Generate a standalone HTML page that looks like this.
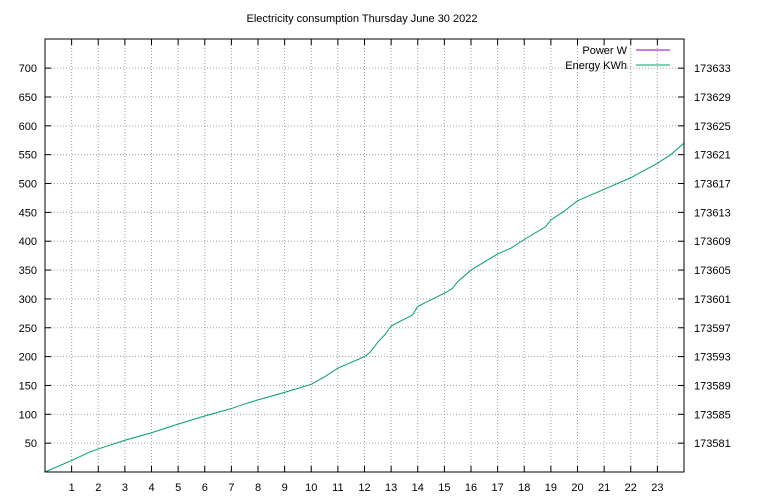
<!DOCTYPE html>
<html><head><meta charset="utf-8"><style>
body{margin:0;background:#fff;}
svg{display:block;font-family:"Liberation Sans",sans-serif;font-size:11px;}
</style></head><body>
<svg id="chart" width="768" height="500">
<text x="362" y="22" text-anchor="middle">Electricity consumption Thursday June 30 2022</text>
<g id="grid"></g>
<g id="axes"></g>
<g id="series"></g>
<rect x="45" y="39" width="639" height="433" fill="none" stroke="#000" stroke-width="1"/>
<g>
<text x="627" y="54" text-anchor="end">Power W</text>
<line x1="636" y1="50" x2="670" y2="50" stroke="#9400d3"/>
<text x="627" y="69" text-anchor="end">Energy KWh</text>
<line x1="636" y1="65" x2="670" y2="65" stroke="#009e73"/>
</g>
</svg>
<script>
const hours=[0,1,1.7,2,3,4,5,6,7,7.5,8,9,10,10.5,11,12,12.2,12.5,12.8,13,13.5,13.8,14,15,15.3,15.5,16,17,17.5,18,18.8,19,19.5,20,21,22,23,23.5,24];
const energyKWh=[173577.0,173578.6,173579.8,173580.2,173581.4,173582.44,173583.64,173584.76,173585.8,173586.44,173587.0,173588.04,173589.16,173590.2,173591.4,173593.0,173593.56,173595.0,173596.2,173597.24,173598.2,173598.76,173599.96,173601.8,173602.44,173603.4,173605.0,173607.24,173608.04,173609.24,173611.0,173611.96,173613.16,173614.6,173616.2,173617.8,173619.8,173621.0,173622.6];
const xTicks=[1,2,3,4,5,6,7,8,9,10,11,12,13,14,15,16,17,18,19,20,21,22,23];
const yTicks=[50,100,150,200,250,300,350,400,450,500,550,600,650,700];
const y2Ticks=[173581,173585,173589,173593,173597,173601,173605,173609,173613,173617,173621,173625,173629,173633];
const L=45,R=684,T=39,B=472;
const X=h=>L+(h/24)*(R-L);
const Y=v=>B-(v/750.5)*(B-T);
const Y2=v=>Y((v-173577)/0.08);
const NS="http://www.w3.org/2000/svg";
const g=document.getElementById('grid'),a=document.getElementById('axes'),s=document.getElementById('series');
function mk(t,at,p){const e=document.createElementNS(NS,t);for(const k in at)e.setAttribute(k,at[k]);p.appendChild(e);return e;}
xTicks.forEach(h=>{const x=X(h);
const gl=mk('line',{x1:x,y1:T,x2:x,y2:B,stroke:'#a0a0a0','stroke-dasharray':'1,2'},g);


mk('line',{x1:x,y1:B,x2:x,y2:B-6,stroke:'#000'},a);
mk('line',{x1:x,y1:T,x2:x,y2:T+6,stroke:'#000'},a);
const t=mk('text',{x:x,y:B+19,'text-anchor':'middle'},a);t.textContent=h;

});
yTicks.forEach(v=>{const y=Y(v);
const gl=mk('line',{x1:L,y1:y,x2:R,y2:y,stroke:'#a0a0a0','stroke-dasharray':'1,2'},g);


mk('line',{x1:L,y1:y,x2:L+6,y2:y,stroke:'#000'},a);
const t=mk('text',{x:L-8,y:y+4,'text-anchor':'end'},a);t.textContent=v;

});
y2Ticks.forEach(v=>{const y=Y2(v);
mk('line',{x1:R,y1:y,x2:R-6,y2:y,stroke:'#000'},a);
const t=mk('text',{x:R+10,y:y+4,'text-anchor':'start'},a);t.textContent=v;

});
const p=mk('polyline',{points:hours.map((h,i)=>X(h)+','+Y2(energyKWh[i])).join(' '),fill:'none',stroke:'#009e73','stroke-width':1},s);


</script>
</body></html>
